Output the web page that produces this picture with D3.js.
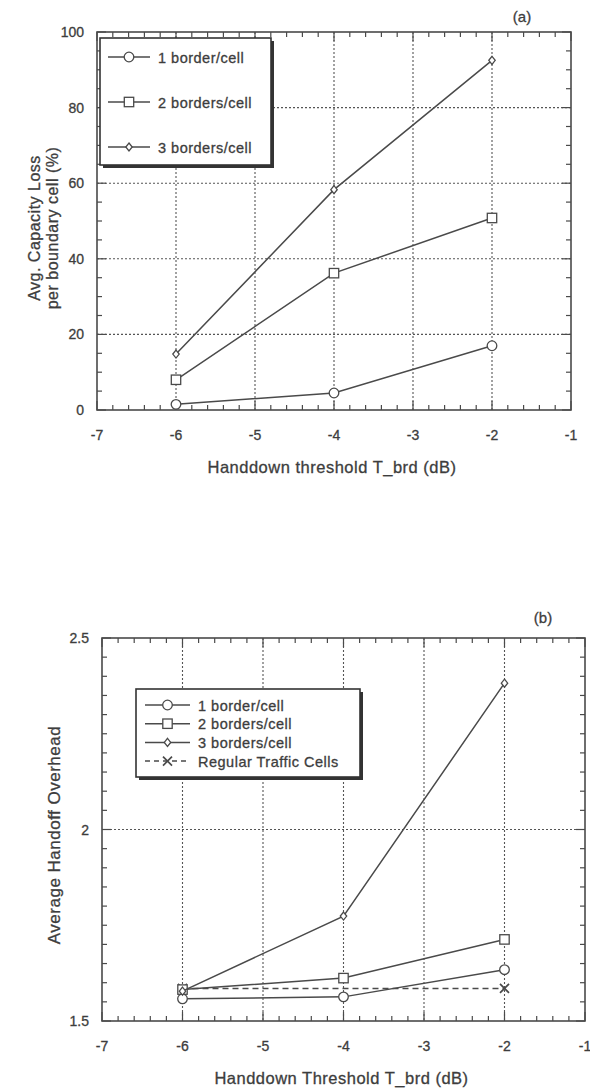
<!DOCTYPE html>
<html>
<head>
<meta charset="utf-8">
<script src="https://cdn.jsdelivr.net/npm/d3@7"></script>
<style>
  body { margin: 0; background: #fff; }
  svg { display: block; }
  text { font-family: "Liberation Sans", Arial, Helvetica, sans-serif; fill: #3d3d3d; stroke: #3d3d3d; stroke-width: 0.3px; }
</style>
</head>
<body>
<svg id="chart"></svg>
<script>
// values
var thresholds = [-6, -4, -2];
var lossOneBorder = [1.5, 4.5, 17];
var lossTwoBorders = [8, 36.2, 50.8];
var lossThreeBorders = [14.8, 58.3, 92.5];

var overheadOneBorder = [1.558, 1.563, 1.634];
var overheadTwoBorders = [1.582, 1.612, 1.713];
var overheadThreeBorders = [1.578, 1.774, 2.382];
var regularThresholds = [-6, -2];
var overheadRegular = [1.585, 1.585];

var xTicks = [-7, -6, -5, -4, -3, -2, -1];
var lossTicks = [0, 20, 40, 60, 80, 100];
var overheadTicks = [1.5, 2, 2.5];
var seriesNames = ["1 border/cell", "2 borders/cell", "3 borders/cell"];
var regularName = "Regular Traffic Cells";
var markerKinds = ["circle", "square", "diamond"];

var ink = "#4a4a4a";

var svg = d3.select("#chart")
    .attr("width", 590)
    .attr("height", 1089);

var zip = function(xs, ys) {
    return xs.map(function(x, i) { return {x: x, y: ys[i]}; });
};

var drawMarker = function(g, kind, cx, cy) {
    if (kind == "circle") {
        g.append("circle").attr("cx", cx).attr("cy", cy).attr("r", 4.8)
            .attr("fill", "#fff").attr("stroke", ink).attr("stroke-width", 1.3);
    } else if (kind == "square") {
        g.append("rect").attr("x", cx - 4.7).attr("y", cy - 4.7)
            .attr("width", 9.4).attr("height", 9.4)
            .attr("fill", "#fff").attr("stroke", ink).attr("stroke-width", 1.3);
    } else if (kind == "diamond") {
        var s = 4;
        g.append("path")
            .attr("d", "M" + cx + "," + (cy - s) + "L" + (cx + s * 0.8) + "," + cy +
                "L" + cx + "," + (cy + s) + "L" + (cx - s * 0.8) + "," + cy + "Z")
            .attr("fill", "#fff").attr("stroke", ink).attr("stroke-width", 1.3);
    } else if (kind == "cross") {
        var c = 4.5;
        g.append("path")
            .attr("d", "M" + (cx - c) + "," + (cy - c) + "L" + (cx + c) + "," + (cy + c) +
                "M" + (cx + c) + "," + (cy - c) + "L" + (cx - c) + "," + (cy + c))
            .attr("stroke", ink).attr("stroke-width", 1.7);
    }
};

var drawPanel = function(p) {
    var g = svg.append("g");
    var xScale = d3.scaleLinear().domain([-7, -1]).range([p.left, p.right]);
    var yScale = d3.scaleLinear().domain(p.yDomain).range([p.bottom, p.top]);

    // dotted grid
    g.selectAll(".vgrid").data(xTicks.slice(1, -1)).enter()
        .append("line")
        .attr("x1", function(d) { return xScale(d); })
        .attr("x2", function(d) { return xScale(d); })
        .attr("y1", p.top).attr("y2", p.bottom)
        .attr("stroke", "#555").attr("stroke-width", 1.1)
        .attr("stroke-dasharray", "2,2");
    g.selectAll(".hgrid").data(p.yTicks.slice(1, -1)).enter()
        .append("line")
        .attr("x1", p.left).attr("x2", p.right)
        .attr("y1", function(d) { return yScale(d); })
        .attr("y2", function(d) { return yScale(d); })
        .attr("stroke", "#555").attr("stroke-width", 1.1)
        .attr("stroke-dasharray", "2,2");

    // frame
    g.append("rect")
        .attr("x", p.left).attr("y", p.top)
        .attr("width", p.right - p.left).attr("height", p.bottom - p.top)
        .attr("fill", "none").attr("stroke", ink).attr("stroke-width", 1.6);

    // inward ticks on all four sides
    var xMinor = d3.range(0, 31).map(function(i) { return -7 + i * 0.2; });
    var yMinor = d3.range(0, p.yMinorCount + 1).map(function(i) {
        return p.yDomain[0] + i * (p.yDomain[1] - p.yDomain[0]) / p.yMinorCount;
    });
    var isMajorX = function(v) { return Math.abs(v - Math.round(v)) < 1e-6; };
    var isMajorY = function(v) {
        return p.yTicks.some(function(t) { return Math.abs(t - v) < 1e-6; });
    };
    xMinor.forEach(function(v) {
        var len = isMajorX(v) ? 9 : 5;
        var x = xScale(v);
        g.append("line").attr("x1", x).attr("x2", x)
            .attr("y1", p.bottom).attr("y2", p.bottom - len)
            .attr("stroke", ink).attr("stroke-width", 1.2);
        g.append("line").attr("x1", x).attr("x2", x)
            .attr("y1", p.top).attr("y2", p.top + len)
            .attr("stroke", ink).attr("stroke-width", 1.2);
    });
    yMinor.forEach(function(v) {
        var len = isMajorY(v) ? 9 : 5;
        var y = yScale(v);
        g.append("line").attr("x1", p.left).attr("x2", p.left + len)
            .attr("y1", y).attr("y2", y)
            .attr("stroke", ink).attr("stroke-width", 1.2);
        g.append("line").attr("x1", p.right).attr("x2", p.right - len)
            .attr("y1", y).attr("y2", y)
            .attr("stroke", ink).attr("stroke-width", 1.2);
    });

    // tick labels
    g.selectAll(".xlab").data(xTicks).enter()
        .append("text")
        .attr("x", function(d) { return xScale(d); })
        .attr("y", p.bottom + 30)
        .attr("text-anchor", "middle")
        .style("font-size", "14px")
        .text(function(d) { return d; });
    g.selectAll(".ylab").data(p.yTicks).enter()
        .append("text")
        .attr("x", p.left - 13)
        .attr("y", function(d) { return yScale(d) + 5; })
        .attr("text-anchor", "end")
        .style("font-size", "14px")
        .text(function(d) { return d; });

    // series
    var line = d3.line()
        .x(function(d) { return xScale(d.x); })
        .y(function(d) { return yScale(d.y); });

    if (p.regular) {
        var reg = zip(regularThresholds, p.regular);
        g.append("path").datum(reg)
            .attr("d", line).attr("fill", "none")
            .attr("stroke", ink).attr("stroke-width", 1.5)
            .attr("stroke-dasharray", "6,4");
        reg.forEach(function(d) { drawMarker(g, "cross", xScale(d.x), yScale(d.y)); });
    }

    p.series.forEach(function(vals, i) {
        var pts = zip(thresholds, vals);
        g.append("path").datum(pts)
            .attr("d", line).attr("fill", "none")
            .attr("stroke", ink).attr("stroke-width", 1.5);
        pts.forEach(function(d) {
            drawMarker(g, markerKinds[i], xScale(d.x), yScale(d.y));
        });
    });

    // axis titles
    g.append("text")
        .attr("x", (p.left + p.right) / 2 - 2)
        .attr("y", p.bottom + 63)
        .attr("text-anchor", "middle")
        .style("font-size", "16.5px")
        .style("letter-spacing", "0.5px")
        .text(p.xTitle);
    p.yTitle.forEach(function(t, i) {
        g.append("text")
            .attr("transform", "translate(" + (p.yTitleX + i * 18) + "," + p.yTitleY + ") rotate(-90)")
            .attr("text-anchor", "middle")
            .style("font-size", p.yTitleSize)
            .style("letter-spacing", "0.5px")
            .text(t);
    });

    g.append("text")
        .attr("x", p.tagX).attr("y", p.tagY)
        .attr("text-anchor", "middle")
        .style("font-size", "15px")
        .text(p.tag);

    // legend with drop shadow
    var L = p.legend;
    var names = seriesNames.slice();
    if (p.regular) names.push(regularName);
    g.append("rect")
        .attr("x", L.x + 3).attr("y", L.y + 3)
        .attr("width", L.w).attr("height", L.h)
        .attr("fill", "#333");
    g.append("rect")
        .attr("x", L.x).attr("y", L.y)
        .attr("width", L.w).attr("height", L.h)
        .attr("fill", "#fff").attr("stroke", "#333").attr("stroke-width", 1.6);
    names.forEach(function(name, i) {
        var ry = L.rowY + i * L.rowGap;
        var le = g.append("g");
        le.append("line")
            .attr("x1", L.lineX0).attr("x2", L.lineX1)
            .attr("y1", ry).attr("y2", ry)
            .attr("stroke", ink).attr("stroke-width", 1.5)
            .attr("stroke-dasharray", i == 3 ? "5,4" : null);
        drawMarker(le, i == 3 ? "cross" : markerKinds[i], (L.lineX0 + L.lineX1) / 2, ry);
        le.append("text")
            .attr("x", L.textX).attr("y", ry + 5.5)
            .style("font-size", L.fontSize)
            .style("letter-spacing", "0.5px")
            .text(name);
    });
};

drawPanel({
    left: 97, right: 571, top: 32, bottom: 410,
    yDomain: [0, 100], yTicks: lossTicks, yMinorCount: 20,
    series: [lossOneBorder, lossTwoBorders, lossThreeBorders],
    xTitle: "Handdown threshold T_brd (dB)",
    yTitle: ["Avg. Capacity Loss", "per boundary cell (%)"],
    yTitleX: 40, yTitleY: 228, yTitleSize: "16px",
    tag: "(a)", tagX: 522, tagY: 22,
    legend: {x: 100, y: 38, w: 171, h: 127, rowY: 57, rowGap: 45,
             lineX0: 108, lineX1: 150, textX: 158, fontSize: "14.5px"}
});

drawPanel({
    left: 102, right: 585, top: 638, bottom: 1021,
    yDomain: [1.5, 2.5], yTicks: overheadTicks, yMinorCount: 20,
    series: [overheadOneBorder, overheadTwoBorders, overheadThreeBorders],
    regular: overheadRegular,
    xTitle: "Handdown Threshold T_brd (dB)",
    yTitle: ["Average Handoff Overhead"],
    yTitleX: 60, yTitleY: 835, yTitleSize: "17px",
    tag: "(b)", tagX: 543, tagY: 623,
    legend: {x: 136, y: 689, w: 224, h: 88, rowY: 705, rowGap: 18.7,
             lineX0: 145, lineX1: 190, textX: 198, fontSize: "14.5px"}
});
</script>
</body>
</html>
